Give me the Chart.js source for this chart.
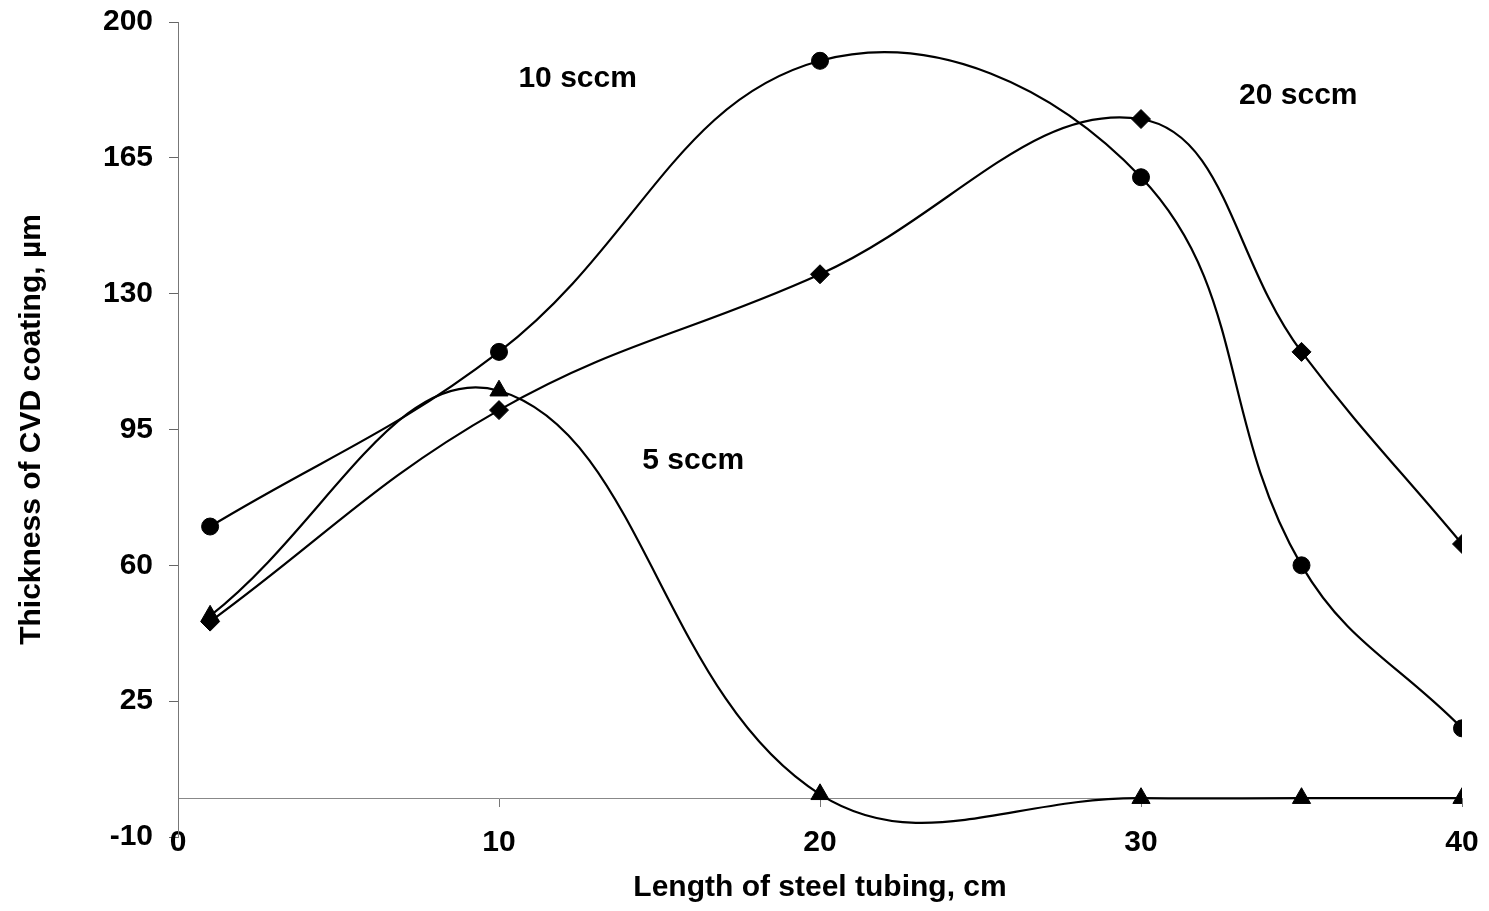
<!DOCTYPE html>
<html>
<head>
<meta charset="utf-8">
<script src="https://cdn.jsdelivr.net/npm/chart.js@4/dist/chart.umd.min.js"></script>
<style>
  html, body { margin: 0; padding: 0; background: #ffffff; }
  #wrap { width: 1489px; height: 911px; position: relative; }
</style>
</head>
<body>
<div id="wrap"><canvas id="c" width="1489" height="911"></canvas></div>
<script>
// ---- data ----
const lengthsCm = [1, 10, 20, 30, 35, 40];
const flow10sccm = [70, 115, 190, 160, 60, 18];
const flow20sccm = [45.5, 100, 135, 175, 115, 65.5];
const flow5sccm = [47, 105, 1, 0, 0, 0];
const yTickValues = [-10, 25, 60, 95, 130, 165, 200];
const xTickValues = [0, 10, 20, 30, 40];
const seriesLabels = ['10 sccm', '20 sccm', '5 sccm'];
// annotation anchor points in data units
const annotationX = [12.45, 34.9, 16.05];
const annotationY = [185.3, 180.9, 86.9];

const FONT = "'Liberation Sans', Arial, sans-serif";

function toPoints(ys) { return lengthsCm.map((x, i) => ({ x: x, y: ys[i] })); }

function ds(label, ys, style, radius) {
  return {
    label: label,
    data: toPoints(ys),
    borderColor: '#000',
    backgroundColor: '#000',
    borderWidth: 2.2,
    pointStyle: style,
    pointRadius: radius,
    pointBorderWidth: 1,
    pointBackgroundColor: '#000',
    pointBorderColor: '#000',
    tension: 0.4,
    capBezierPoints: false,
    fill: false,
    xAxisID: 'x',
    yAxisID: 'y'
  };
}

const annotationPlugin = {
  id: 'sccmLabels',
  afterDatasetsDraw(chart) {
    const ctx = chart.ctx;
    const xs = chart.scales.x, ys = chart.scales.y;
    ctx.save();
    ctx.font = "bold 30px " + FONT;
    ctx.fillStyle = '#000';
    ctx.textAlign = 'center';
    ctx.textBaseline = 'middle';
    seriesLabels.forEach((t, i) => {
      ctx.fillText(t, xs.getPixelForValue(annotationX[i]), ys.getPixelForValue(annotationY[i]));
    });
    ctx.restore();
  }
};

new Chart(document.getElementById('c'), {
  type: 'line',
  data: {
    datasets: [
      ds(seriesLabels[0], flow10sccm, 'circle', 8.5),
      ds(seriesLabels[1], flow20sccm, 'rectRot', 9.5),
      ds(seriesLabels[2], flow5sccm, 'triangle', 10.5)
    ]
  },
  plugins: [annotationPlugin],
  options: {
    responsive: false,
    animation: false,
    devicePixelRatio: 1,
    elements: { line: { capBezierPoints: false } },
    layout: { padding: { left: 0, right: 27, top: 22, bottom: 0 } },
    plugins: { legend: { display: false }, tooltip: { enabled: false } },
    scales: {
      x: {
        type: 'linear',
        position: 'bottom',
        min: 0, max: 40,
        afterBuildTicks: s => { s.ticks = xTickValues.map(v => ({ value: v })); },
        afterFit: s => { s.height = 74; s.paddingLeft = 0; s.paddingRight = 0; },
        grid: { display: false },
        border: { display: false },
        ticks: { display: false },
        title: {
          display: true,
          text: 'Length of steel tubing, cm',
          color: '#000',
          font: { family: FONT, size: 30, weight: 'bold', lineHeight: 1.2 },
          padding: { top: 0, bottom: 5 }
        }
      },
      x0: {
        type: 'linear',
        position: { y: 0 },
        min: 0, max: 40,
        afterBuildTicks: s => { s.ticks = xTickValues.map(v => ({ value: v })); },
        afterFit: s => { s.paddingLeft = 0; s.paddingRight = 0; s.paddingTop = 0; s.paddingBottom = 0; },
        grid: { display: true, drawOnChartArea: false, drawTicks: true, tickLength: 8, color: '#777', lineWidth: 1 },
        border: { display: true, color: '#888', width: 1 },
        ticks: {
          display: true,
          color: '#000',
          padding: 22,
          maxRotation: 0,
          font: { family: FONT, size: 30, weight: 'bold', lineHeight: 1 }
        }
      },
      y: {
        type: 'linear',
        position: 'left',
        min: -10, max: 200,
        afterBuildTicks: s => { s.ticks = yTickValues.map(v => ({ value: v })); },
        afterFit: s => { s.width = 178; s.paddingTop = 0; s.paddingBottom = 0; },
        grid: { display: true, drawOnChartArea: false, drawTicks: true, tickLength: 9, color: '#666', lineWidth: 1 },
        border: { display: true, color: '#777', width: 1 },
        ticks: {
          color: '#000',
          padding: 16,
          font: { family: FONT, size: 30, weight: 'bold' }
        },
        title: {
          display: true,
          text: 'Thickness of CVD coating, µm',
          color: '#000',
          font: { family: FONT, size: 30, weight: 'bold', lineHeight: 1.2 },
          padding: { top: 14, bottom: 0 }
        }
      }
    }
  }
});
</script>
</body>
</html>
